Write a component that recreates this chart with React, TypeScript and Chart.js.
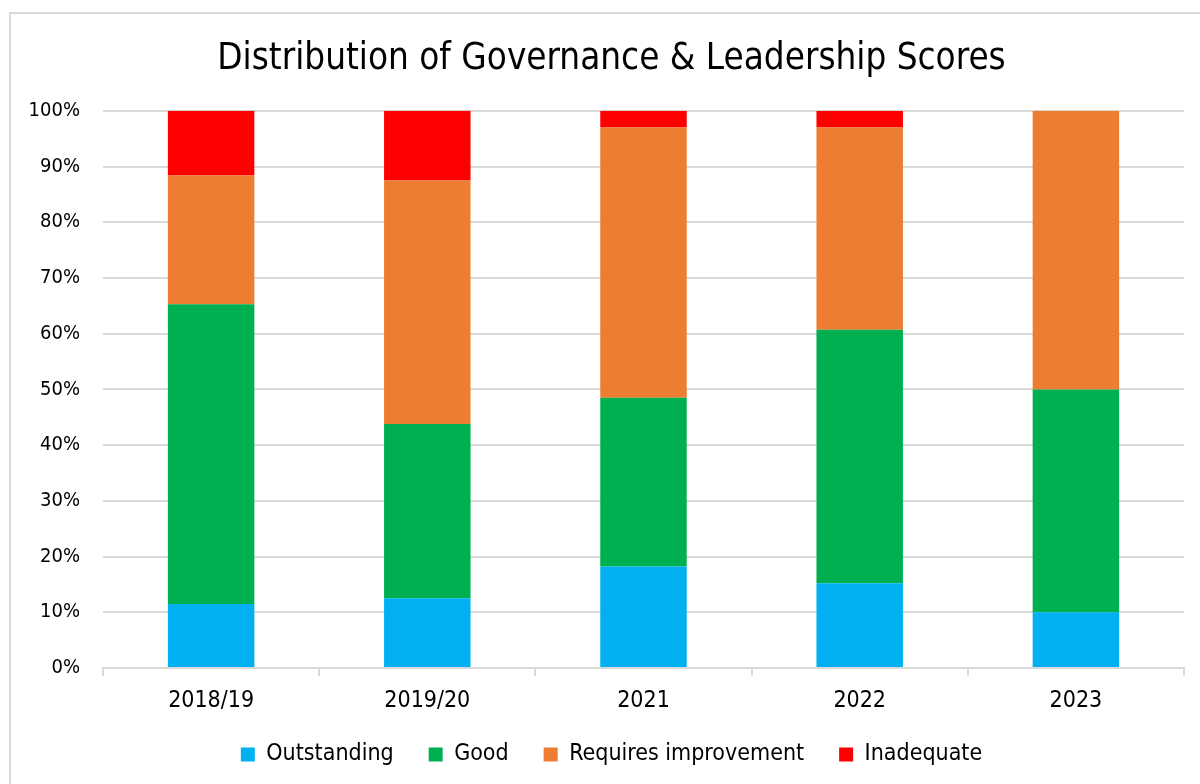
import React, { useEffect, useRef } from 'react';
import { Chart, registerables } from 'chart.js';

Chart.register(...registerables);

const categories = ['2018/19', '2019/20', '2021', '2022', '2023'];
const outstanding = [11.5, 12.5, 18.2, 15.2, 10.0];
const good = [53.8, 31.3, 30.3, 45.5, 40.0];
const requiresImprovement = [23.1, 43.7, 48.5, 36.3, 50.0];
const inadequate = [11.6, 12.5, 3.0, 3.0, 0];
const yTicks = [0, 10, 20, 30, 40, 50, 60, 70, 80, 90, 100];

const FONT = "'DejaVu Sans Condensed', 'DejaVu Sans', sans-serif";

// nudges the legend up a little (Excel places it closer to the axis labels)
const legendNudge = {
  id: 'legendNudge',
  afterLayout(chart: any) {
    const lg = chart.legend;
    if (lg) {
      lg.top -= 5;
      lg.bottom -= 5;
    }
  },
};

export default function App() {
  const ref = useRef<HTMLCanvasElement>(null);
  useEffect(() => {
    document.body.style.margin = '0';
    const chart = new Chart(ref.current!, {
      type: 'bar',
      data: {
        labels: categories,
        datasets: [
          { label: 'Outstanding', data: outstanding, backgroundColor: '#00B0F0' },
          { label: 'Good', data: good, backgroundColor: '#00B050' },
          { label: 'Requires improvement', data: requiresImprovement, backgroundColor: '#ED7D31' },
          { label: 'Inadequate', data: inadequate, backgroundColor: '#FF0000' },
        ],
      },
      plugins: [legendNudge],
      options: {
        responsive: false,
        animation: false,
        layout: { padding: { left: 23, right: 0, top: 0, bottom: 3 } },
        datasets: { bar: { categoryPercentage: 1, barPercentage: 0.4 } },
        plugins: {
          title: {
            display: true,
            text: 'Distribution of Governance & Leadership Scores',
            color: '#000',
            font: { family: FONT, size: 36.5, weight: 'normal' },
            padding: { top: 38, bottom: 29 },
          },
          legend: {
            position: 'bottom',
            labels: {
              color: '#000',
              font: { family: FONT, size: 23 },
              boxWidth: 14,
              boxHeight: 14,
              padding: 35,
            },
          },
          tooltip: { enabled: false },
        },
        scales: {
          x: {
            stacked: true,
            afterFit: (s: any) => { s.height = 45; },
            grid: {
              display: true,
              drawOnChartArea: false,
              drawTicks: true,
              tickLength: 8,
              offset: true,
              color: '#d9d9d9',
              lineWidth: 2,
            },
            border: { display: true, color: '#d9d9d9', width: 2 },
            ticks: { color: '#000', font: { family: FONT, size: 23, lineHeight: 1 }, padding: 14 },
          },
          y: {
            stacked: true,
            min: 0,
            max: 100,
            afterFit: (s: any) => { s.width = 80; },
            afterBuildTicks: (s: any) => { s.ticks = yTicks.map((v) => ({ value: v })); },
            grid: { color: '#d9d9d9', lineWidth: 2, drawTicks: false },
            border: { display: false },
            ticks: {
              color: '#000',
              font: { family: FONT, size: 20 },
              padding: 23,
              callback: (v: any) => v + '%',
            },
          },
          yRightSpace: {
            position: 'right',
            display: true,
            afterFit: (s: any) => { s.width = 16; },
            grid: { display: false },
            border: { display: false },
            ticks: { display: false },
          },
        },
      },
    });
    return () => chart.destroy();
  }, []);
  return (
    <div style={{ position: 'relative', width: 1200, height: 784, overflow: 'hidden', background: '#fff' }}>
      <div
        style={{
          position: 'absolute',
          left: 9,
          top: 12,
          width: 1300,
          height: 900,
          border: '2px solid #d9d9d9',
          boxSizing: 'border-box',
        }}
      />
      <canvas ref={ref} width={1200} height={784} style={{ position: 'absolute', left: 0, top: 0 }} />
    </div>
  );
}
